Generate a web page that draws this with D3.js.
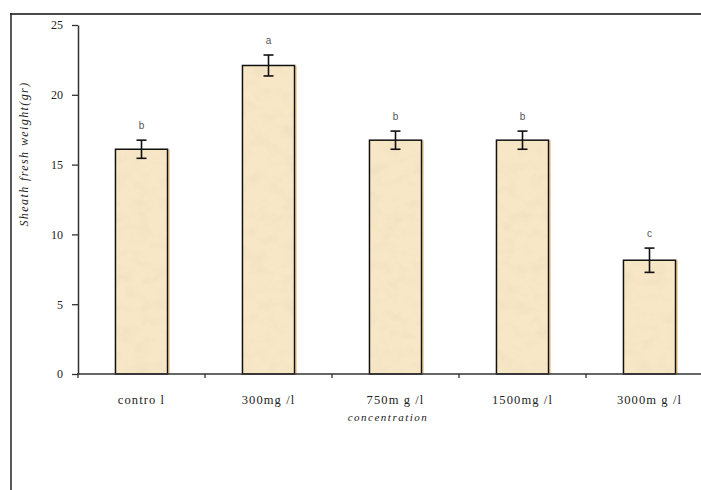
<!DOCTYPE html>
<html>
<head>
<meta charset="utf-8">
<script src="https://cdn.jsdelivr.net/npm/d3@7"></script>
<style>
  html, body { margin: 0; padding: 0; background: #fff; }
  svg { display: block; }
</style>
</head>
<body>
<svg id="chart" width="701" height="490"></svg>
<script>
// Sheath fresh weight by concentration (mean ± error, letters = significance groups)
const categories = ["control", "300mg/l", "750mg/l", "1500mg/l", "3000mg/l"];
const tickLabels = ["contro l", "300mg /l", "750m g /l", "1500mg /l", "3000m g /l"];
const means = [16.1, 22.1, 16.75, 16.75, 8.15];
const errors = [0.65, 0.75, 0.65, 0.65, 0.87];
const groups = ["b", "a", "b", "b", "c"];
const yTicks = [0, 5, 10, 15, 20, 25];

const svg = d3.select("#chart");

// parchment texture for the bars
const defs = svg.append("defs");
const f = defs.append("filter").attr("id", "paper")
  .attr("x", 0).attr("y", 0).attr("width", 1).attr("height", 1);
f.append("feTurbulence").attr("type", "fractalNoise")
  .attr("baseFrequency", "0.06 0.08").attr("numOctaves", 3).attr("seed", 7).attr("result", "noise");
f.append("feColorMatrix").attr("in", "noise").attr("type", "matrix")
  .attr("values", "0 0 0 0 0.72  0 0 0 0 0.62  0 0 0 0 0.45  0.55 0 0 0 -0.24")
  .attr("result", "spots");
f.append("feComposite").attr("in", "spots").attr("in2", "SourceGraphic").attr("operator", "in").attr("result", "clipped");
f.append("feMerge").selectAll("feMergeNode").data(["SourceGraphic", "clipped"]).join("feMergeNode").attr("in", d => d);

// outer frame (top and left edges)
svg.append("line").attr("x1", 10).attr("x2", 701).attr("y1", 14).attr("y2", 14)
  .attr("stroke", "#4a4a4a").attr("stroke-width", 2);
svg.append("line").attr("x1", 11).attr("x2", 11).attr("y1", 13).attr("y2", 490)
  .attr("stroke", "#222").attr("stroke-width", 1.5);

const x = d3.scaleBand().domain(categories).range([78, 713]).paddingInner(0).paddingOuter(0);
const y = d3.scaleLinear().domain([0, 25]).range([374, 25]);
const barW = x.bandwidth() * 0.41;

// bars
const bars = svg.append("g");
bars.selectAll("rect.fill").data(categories).join("rect")
  .attr("class", "fill")
  .attr("x", d => x(d) + (x.bandwidth() - barW) / 2)
  .attr("y", (d, i) => y(means[i]))
  .attr("width", barW)
  .attr("height", (d, i) => y(0) - y(means[i]))
  .attr("fill", "#f7e7c6")
  .attr("filter", "url(#paper)");
bars.selectAll("line.edge").data(categories).join("line")
  .attr("class", "edge")
  .attr("x1", d => x(d) + (x.bandwidth() + barW) / 2 + 1.5)
  .attr("x2", d => x(d) + (x.bandwidth() + barW) / 2 + 1.5)
  .attr("y1", (d, i) => y(means[i]))
  .attr("y2", y(0))
  .attr("stroke", "#f2c98a").attr("stroke-width", 1.5);
bars.selectAll("rect.outline").data(categories).join("rect")
  .attr("class", "outline")
  .attr("x", d => x(d) + (x.bandwidth() - barW) / 2)
  .attr("y", (d, i) => y(means[i]))
  .attr("width", barW)
  .attr("height", (d, i) => y(0) - y(means[i]))
  .attr("fill", "none")
  .attr("stroke", "#111").attr("stroke-width", 1.5);

// error bars
const eb = svg.append("g").attr("stroke", "#111").attr("stroke-width", 1.6);
categories.forEach((c, i) => {
  const cx = x(c) + x.bandwidth() / 2;
  const top = y(means[i] + errors[i]), bot = y(means[i] - errors[i]);
  eb.append("line").attr("x1", cx).attr("x2", cx).attr("y1", top).attr("y2", bot);
  eb.append("line").attr("x1", cx - 5).attr("x2", cx + 5).attr("y1", top).attr("y2", top);
  eb.append("line").attr("x1", cx - 5).attr("x2", cx + 5).attr("y1", bot).attr("y2", bot);
});

// significance letters
svg.append("g").selectAll("text").data(categories).join("text")
  .attr("x", d => x(d) + x.bandwidth() / 2)
  .attr("y", (d, i) => y(means[i] + errors[i]) - 11)
  .attr("text-anchor", "middle")
  .attr("font-family", "Liberation Sans, Arial, sans-serif")
  .attr("font-size", 10)
  .attr("fill", "#555")
  .text((d, i) => groups[i]);

// y axis
const yAxis = svg.append("g").attr("transform", "translate(78,0)")
  .call(d3.axisLeft(y).tickValues(yTicks).tickSize(6).tickSizeOuter(0).tickPadding(9));
yAxis.select(".domain").attr("stroke", "#333").attr("stroke-width", 1.5);
yAxis.selectAll(".tick line").attr("stroke", "#333").attr("stroke-width", 1.3);
yAxis.selectAll(".tick text").attr("font-family", "Liberation Serif, Times New Roman, serif")
  .attr("font-size", 12).attr("fill", "#222");

// x axis
const xAxis = svg.append("g").attr("transform", "translate(0,374)");
xAxis.append("line").attr("x1", 77).attr("x2", 701).attr("y1", 0).attr("y2", 0)
  .attr("stroke", "#333").attr("stroke-width", 1.5);
xAxis.selectAll("line.tk").data(categories).join("line")
  .attr("class", "tk")
  .attr("x1", d => x(d)).attr("x2", d => x(d))
  .attr("y1", 0).attr("y2", 4)
  .attr("stroke", "#333").attr("stroke-width", 1.3);
xAxis.selectAll("text").data(categories).join("text")
  .attr("x", d => x(d) + x.bandwidth() / 2)
  .attr("y", 30)
  .attr("text-anchor", "middle")
  .attr("font-family", "Liberation Serif, Times New Roman, serif")
  .attr("font-size", 12.5)
  .attr("letter-spacing", 1.1)
  .attr("fill", "#222")
  .text((d, i) => tickLabels[i]);

// axis titles
svg.append("text")
  .attr("x", 388).attr("y", 421)
  .attr("text-anchor", "middle")
  .attr("font-family", "Liberation Serif, Times New Roman, serif")
  .attr("font-style", "italic")
  .attr("font-size", 11)
  .attr("letter-spacing", 1.5)
  .attr("fill", "#222")
  .text("concentration");

svg.append("text")
  .attr("transform", "translate(28,154) rotate(-90)")
  .attr("text-anchor", "middle")
  .attr("font-family", "Liberation Serif, Times New Roman, serif")
  .attr("font-style", "italic")
  .attr("font-size", 12)
  .attr("letter-spacing", 1.4)
  .attr("fill", "#222")
  .text("Sheath  fresh  weight(gr)");
</script>
</body>
</html>
